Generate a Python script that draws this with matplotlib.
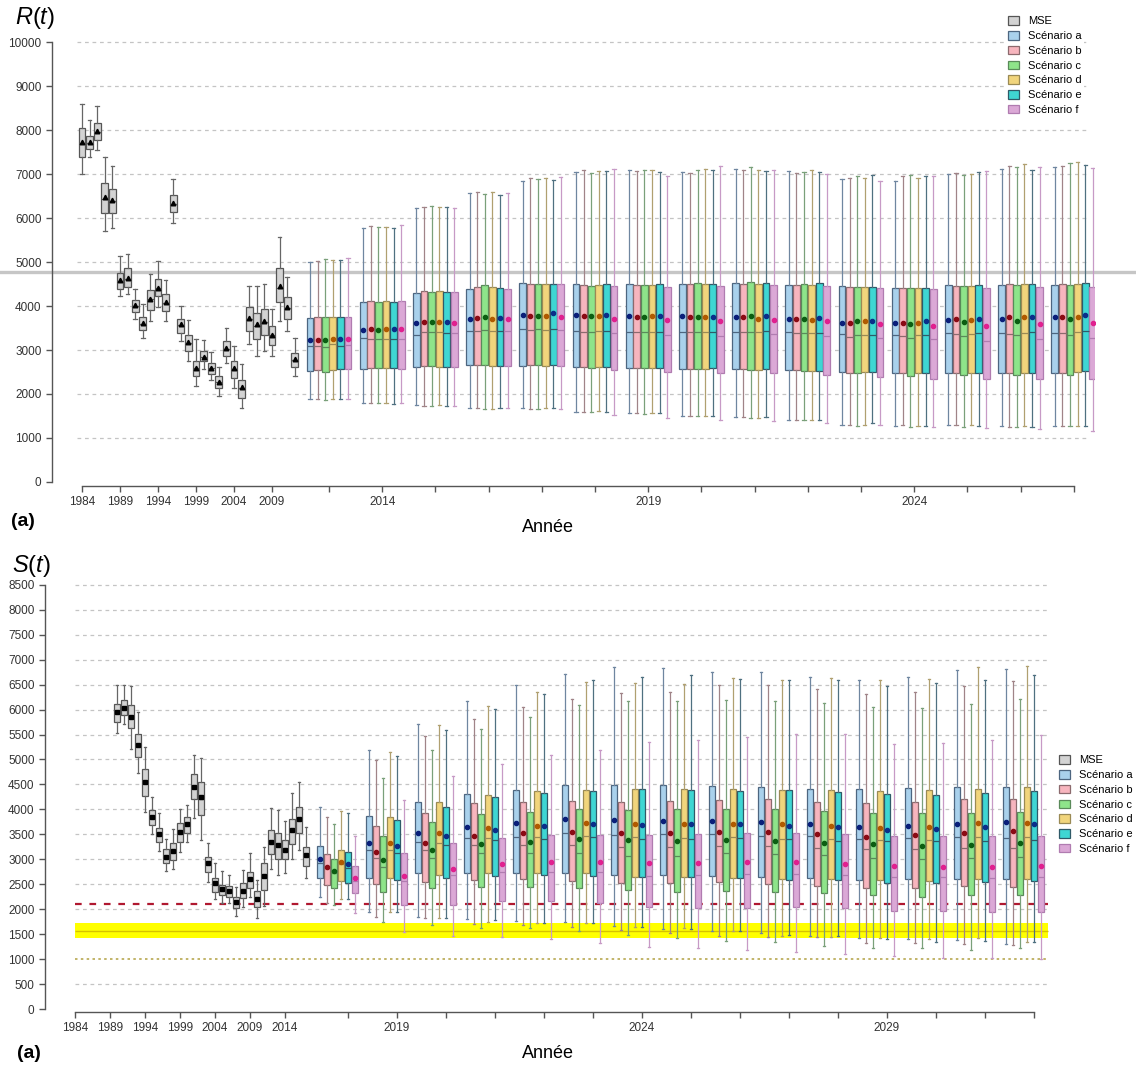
import matplotlib
matplotlib.use('Agg')
import matplotlib.pyplot as plt
from matplotlib.patches import Patch

plt.rcParams['font.family'] = ['Liberation Sans', 'DejaVu Sans']
plt.rcParams['mathtext.fontset'] = 'custom'
plt.rcParams['mathtext.rm'] = 'Liberation Sans'
plt.rcParams['mathtext.it'] = 'Liberation Sans:italic'

# ---------------- R(t) : historique MSE 1984-2012 ----------------
R_mse_years = list(range(1984, 2013))
R_mse_lo = [7010, 7390, 7540, 5700, 5780, 4230, 4270, 3710, 3270, 3660, 3980, 3660, 5890, 3200, 2740,
            2180, 2560, 2320, 1960, 2700, 2130, 1690, 3140, 2870, 2970, 2860, 3660, 3430, 2410]
R_mse_q1 = [7380, 7570, 7770, 6110, 6110, 4390, 4440, 3860, 3450, 3910, 4230, 3890, 6140, 3390, 2970,
            2410, 2740, 2450, 2130, 2870, 2360, 1920, 3430, 3240, 3330, 3120, 4090, 3710, 2610]
R_mse_med = [7700, 7710, 7960, 6440, 6380, 4570, 4620, 4000, 3600, 4150, 4400, 4070, 6320, 3560, 3160,
             2580, 2830, 2580, 2270, 3030, 2570, 2140, 3700, 3550, 3630, 3330, 4420, 3960, 2780]
R_mse_mean = [7720, 7730, 7980, 6470, 6410, 4590, 4640, 4020, 3620, 4170, 4420, 4090, 6350, 3580, 3180,
              2600, 2840, 2590, 2280, 3050, 2590, 2160, 3730, 3580, 3660, 3350, 4460, 3980, 2790]
R_mse_q3 = [8040, 7860, 8170, 6790, 6670, 4740, 4860, 4140, 3760, 4370, 4610, 4270, 6520, 3710, 3340,
            2760, 2970, 2700, 2400, 3200, 2740, 2310, 3980, 3850, 3940, 3540, 4860, 4200, 2930]
R_mse_hi = [8590, 8230, 8550, 7380, 7190, 5140, 5180, 4380, 4050, 4730, 5030, 4590, 6890, 4000, 3690,
            3250, 3220, 2950, 2610, 3500, 3080, 2690, 4460, 4460, 4500, 3940, 5560, 4670, 3280]

# ---------------- R(t) : projections 2013-2027, scénarios a..f ----------------
R_proj_years = list(range(2013, 2028))
R_hi = [[5000, 5030, 5060, 5050, 5040, 5100], [5780, 5820, 5790, 5800, 5770, 5830],
        [6220, 6250, 6270, 6260, 6240, 6230], [6560, 6600, 6540, 6580, 6520, 6560],
        [6850, 6900, 6880, 6920, 6870, 6930], [7050, 7080, 7030, 7060, 7070, 7120],
        [7100, 7060, 7090, 7080, 7050, 6950], [7050, 7020, 7100, 7120, 7080, 7180],
        [7120, 7080, 7150, 7100, 7060, 7100], [7060, 7020, 7050, 7080, 7050, 7000],
        [6880, 6900, 6950, 6920, 6980, 6830], [6850, 6950, 6980, 6900, 6960, 6950],
        [6990, 7020, 6980, 7010, 7050, 7070], [7120, 7180, 7150, 7220, 7100, 7170],
        [7150, 7180, 7250, 7280, 7200, 7130]]
R_q3 = [[3730, 3760, 3750, 3750, 3750, 3750], [4090, 4110, 4080, 4110, 4090, 4110],
        [4300, 4340, 4320, 4330, 4310, 4320], [4390, 4430, 4470, 4430, 4410, 4390],
        [4530, 4490, 4510, 4510, 4510, 4490], [4500, 4480, 4460, 4480, 4500, 4460],
        [4500, 4480, 4470, 4480, 4500, 4430], [4500, 4490, 4520, 4500, 4510, 4460],
        [4520, 4510, 4540, 4500, 4520, 4470], [4480, 4470, 4490, 4480, 4520, 4450],
        [4450, 4430, 4440, 4440, 4430, 4400], [4420, 4400, 4400, 4420, 4420, 4380],
        [4470, 4460, 4450, 4460, 4480, 4420], [4480, 4500, 4480, 4500, 4500, 4430],
        [4480, 4490, 4480, 4510, 4530, 4440]]
R_mean = [[3220, 3230, 3220, 3240, 3240, 3240], [3450, 3480, 3460, 3480, 3480, 3480],
          [3620, 3640, 3640, 3640, 3640, 3620], [3710, 3730, 3740, 3700, 3730, 3700],
          [3800, 3770, 3780, 3770, 3830, 3750], [3800, 3780, 3770, 3780, 3790, 3710],
          [3780, 3760, 3750, 3770, 3770, 3690], [3770, 3740, 3740, 3740, 3750, 3670],
          [3760, 3760, 3770, 3710, 3770, 3680], [3710, 3710, 3710, 3690, 3720, 3660],
          [3620, 3610, 3670, 3650, 3650, 3590], [3620, 3620, 3590, 3620, 3650, 3550],
          [3680, 3700, 3630, 3680, 3700, 3550], [3700, 3760, 3670, 3740, 3760, 3590],
          [3760, 3760, 3700, 3760, 3800, 3610]]
R_med = [[3080, 3100, 3070, 3130, 3100, 3110], [3270, 3260, 3260, 3260, 3260, 3260],
         [3350, 3410, 3400, 3400, 3380, 3380], [3430, 3440, 3460, 3430, 3440, 3430],
         [3480, 3460, 3480, 3460, 3480, 3460], [3440, 3420, 3420, 3430, 3440, 3380],
         [3420, 3410, 3400, 3410, 3420, 3350], [3410, 3410, 3410, 3410, 3410, 3320],
         [3420, 3410, 3410, 3410, 3440, 3360], [3410, 3380, 3380, 3380, 3390, 3320],
         [3360, 3290, 3330, 3340, 3340, 3270], [3350, 3320, 3270, 3340, 3350, 3250],
         [3380, 3360, 3310, 3360, 3380, 3210], [3380, 3370, 3330, 3380, 3400, 3250],
         [3380, 3380, 3330, 3400, 3440, 3270]]
R_q1 = [[2520, 2550, 2510, 2550, 2560, 2560], [2570, 2600, 2590, 2600, 2590, 2570],
        [2610, 2630, 2630, 2620, 2620, 2620], [2650, 2650, 2650, 2640, 2640, 2640],
        [2630, 2650, 2650, 2640, 2650, 2630], [2610, 2610, 2600, 2610, 2620, 2540],
        [2590, 2590, 2580, 2590, 2590, 2500], [2570, 2570, 2560, 2570, 2580, 2470],
        [2560, 2570, 2540, 2540, 2560, 2480], [2540, 2540, 2520, 2520, 2530, 2430],
        [2500, 2470, 2470, 2490, 2490, 2380], [2480, 2470, 2410, 2480, 2470, 2350],
        [2480, 2480, 2440, 2480, 2480, 2350], [2480, 2470, 2440, 2480, 2480, 2330],
        [2480, 2480, 2440, 2500, 2530, 2350]]
R_lo = [[1890, 1890, 1870, 1880, 1890, 1880], [1790, 1790, 1800, 1790, 1780, 1790],
        [1740, 1730, 1730, 1740, 1730, 1720], [1680, 1680, 1660, 1660, 1680, 1680],
        [1680, 1670, 1650, 1680, 1690, 1670], [1600, 1600, 1590, 1610, 1600, 1520],
        [1560, 1560, 1540, 1560, 1560, 1450], [1490, 1490, 1490, 1490, 1500, 1410],
        [1470, 1470, 1460, 1460, 1480, 1390], [1410, 1410, 1400, 1400, 1420, 1350],
        [1290, 1300, 1280, 1290, 1330, 1290], [1280, 1290, 1240, 1280, 1280, 1250],
        [1290, 1290, 1260, 1300, 1280, 1220], [1270, 1260, 1250, 1270, 1260, 1210],
        [1280, 1270, 1270, 1280, 1280, 1160]]
R_ref = 4780

# ---------------- S(t) : historique MSE 1990-2017 ----------------
S_mse_years = list(range(1990, 2018))
S_mse_lo = [5530, 5710, 5220, 4730, 3950, 3500, 3170, 2770, 2800, 3150, 3350, 3830, 3380, 2550,
            2200, 2120, 2120, 1860, 2040, 2250, 1820, 2060, 2800, 2690, 2730, 3000, 3190, 2620]
S_mse_q1 = [5750, 5890, 5630, 5040, 4270, 3690, 3350, 2920, 2980, 3350, 3530, 4200, 3890, 2750,
            2350, 2280, 2250, 2020, 2220, 2430, 2040, 2380, 3100, 3010, 3010, 3300, 3530, 2870]
S_mse_med = [5930, 6010, 5830, 5270, 4530, 3820, 3480, 3040, 3150, 3530, 3680, 4420, 4210, 2900,
             2500, 2390, 2360, 2130, 2360, 2580, 2190, 2640, 3330, 3260, 3160, 3570, 3780, 3080]
S_mse_mean = [5950, 6030, 5850, 5290, 4550, 3840, 3500, 3050, 3170, 3550, 3700, 4450, 4240, 2920,
              2520, 2400, 2370, 2140, 2370, 2600, 2200, 2660, 3350, 3290, 3190, 3590, 3800, 3090]
S_mse_q3 = [6120, 6190, 6100, 5520, 4800, 3990, 3630, 3200, 3320, 3730, 3850, 4700, 4550, 3050,
            2620, 2480, 2460, 2240, 2520, 2750, 2370, 2920, 3590, 3520, 3390, 3800, 4040, 3250]
S_mse_hi = [6490, 6490, 6470, 5950, 5250, 4250, 3920, 3400, 3600, 4000, 4080, 5100, 5030, 3320,
            2920, 2770, 2680, 2440, 2780, 3130, 2580, 3250, 4030, 3990, 3770, 4320, 4540, 3650]

# ---------------- S(t) : projections 2018-2032, scénarios a..f ----------------
S_proj_years = list(range(2018, 2033))
S_hi = [[4050, 3840, 3710, 3970, 3920, 3470], [5200, 4990, 4620, 5160, 5060, 4190],
        [5710, 5470, 5200, 5690, 5600, 4670], [6170, 5820, 5610, 6070, 6010, 4910],
        [6490, 6060, 5860, 6360, 6310, 5080], [6710, 6210, 6090, 6560, 6590, 5200],
        [6860, 6330, 6180, 6530, 6660, 5350], [6830, 6360, 6180, 6510, 6690, 5390],
        [6750, 6490, 6190, 6640, 6610, 5460], [6750, 6490, 6170, 6590, 6590, 5510],
        [6660, 6410, 6130, 6630, 6590, 5520], [6590, 6310, 6060, 6590, 6470, 5320],
        [6660, 6360, 6030, 6610, 6540, 5340], [6790, 6470, 6110, 6860, 6590, 5390],
        [6810, 6570, 6210, 6870, 6690, 5490]]
S_q3 = [[3270, 3100, 3010, 3190, 3150, 2870], [3870, 3670, 3470, 3850, 3790, 3120],
        [4150, 3920, 3740, 4140, 4050, 3320], [4300, 4120, 3900, 4290, 4240, 3420],
        [4380, 4150, 3950, 4360, 4320, 3490], [4490, 4170, 4010, 4390, 4370, 3490],
        [4490, 4150, 3990, 4400, 4400, 3490], [4490, 4170, 4000, 4400, 4390, 3510],
        [4470, 4190, 4010, 4400, 4370, 3530], [4440, 4200, 4010, 4390, 4390, 3530],
        [4410, 4150, 3970, 4390, 4340, 3510], [4400, 4120, 3930, 4370, 4300, 3460],
        [4420, 4140, 3920, 4390, 4290, 3460], [4440, 4200, 3920, 4410, 4320, 3470],
        [4440, 4200, 3950, 4440, 4370, 3470]]
S_mean = [[3000, 2850, 2770, 2940, 2910, 2620], [3330, 3150, 2990, 3320, 3270, 2670],
          [3520, 3330, 3190, 3520, 3470, 2810], [3650, 3470, 3310, 3620, 3590, 2910],
          [3720, 3520, 3350, 3670, 3670, 2950], [3800, 3540, 3400, 3730, 3700, 2950],
          [3790, 3530, 3390, 3710, 3690, 2920], [3770, 3520, 3370, 3700, 3700, 2930],
          [3770, 3550, 3390, 3700, 3700, 2950], [3740, 3540, 3370, 3700, 3670, 2950],
          [3700, 3500, 3330, 3670, 3640, 2910], [3650, 3440, 3300, 3630, 3590, 2870],
          [3670, 3480, 3270, 3650, 3600, 2840], [3710, 3530, 3290, 3730, 3640, 2850],
          [3740, 3560, 3330, 3720, 3700, 2870]]
S_med = [[2930, 2820, 2720, 2900, 2820, 2570], [3190, 3020, 2850, 3190, 3130, 2570],
         [3350, 3190, 3020, 3330, 3290, 2690], [3430, 3290, 3120, 3420, 3390, 2740],
         [3450, 3290, 3130, 3450, 3400, 2750], [3520, 3290, 3130, 3470, 3440, 2750],
         [3490, 3240, 3070, 3440, 3410, 2670], [3500, 3250, 3070, 3430, 3410, 2690],
         [3500, 3270, 3130, 3440, 3430, 2700], [3470, 3270, 3100, 3410, 3410, 2700],
         [3470, 3230, 3090, 3410, 3370, 2690], [3410, 3200, 3020, 3390, 3360, 2640],
         [3420, 3210, 3000, 3390, 3360, 2640], [3440, 3230, 3020, 3440, 3370, 2620],
         [3430, 3230, 3050, 3450, 3390, 2640]]
S_q1 = [[2620, 2480, 2430, 2570, 2530, 2330], [2620, 2500, 2350, 2620, 2590, 2080],
        [2720, 2550, 2420, 2690, 2630, 2080], [2730, 2590, 2450, 2720, 2670, 2170],
        [2720, 2600, 2450, 2720, 2690, 2170], [2720, 2570, 2430, 2720, 2670, 2120],
        [2690, 2520, 2380, 2650, 2640, 2050], [2690, 2520, 2350, 2640, 2640, 2020],
        [2670, 2540, 2360, 2630, 2620, 2020], [2640, 2510, 2340, 2600, 2590, 2040],
        [2620, 2470, 2320, 2600, 2590, 2020], [2590, 2420, 2280, 2590, 2520, 1970],
        [2600, 2430, 2250, 2570, 2530, 1970], [2600, 2470, 2280, 2600, 2550, 1940],
        [2600, 2450, 2280, 2600, 2570, 1940]]
S_lo = [[2240, 2120, 2080, 2200, 2200, 1930], [1940, 1840, 1740, 1940, 1940, 1550],
        [1840, 1820, 1680, 1820, 1820, 1460], [1800, 1700, 1620, 1750, 1780, 1440],
        [1760, 1680, 1620, 1730, 1730, 1400], [1740, 1650, 1570, 1720, 1720, 1330],
        [1670, 1590, 1490, 1650, 1650, 1250], [1600, 1530, 1430, 1620, 1600, 1220],
        [1570, 1470, 1360, 1570, 1570, 1180], [1520, 1440, 1340, 1460, 1480, 1150],
        [1460, 1450, 1270, 1440, 1460, 1100], [1420, 1330, 1220, 1430, 1400, 1060],
        [1400, 1320, 1220, 1400, 1350, 1030], [1380, 1300, 1190, 1420, 1360, 1030],
        [1310, 1280, 1220, 1350, 1350, 1000]]
S_lim = 2100
S_band = (1420, 1720)
S_band_mid = 1570
S_low_ref = 1000

labels = ['MSE', 'Scénario a', 'Scénario b', 'Scénario c', 'Scénario d', 'Scénario e', 'Scénario f']
faces = ['#d3d3d3', '#a9d1ec', '#f7b5be', '#8ee48a', '#f1d57c', '#3fd6d3', '#dba8d6']
edges = ['#555555', '#4d6680', '#8c6a6e', '#5a8a5a', '#9a8a55', '#2f5a68', '#b07cb0']
whisk = ['#666666', '#6f86a0', '#a08488', '#7aa07a', '#b0a070', '#4f7080', '#c79ac6']
meanc = ['black', '#0a1f7a', '#8b0a14', '#0b5e12', '#b05a00', '#0a2f8a', '#e0208f']

W, H = 1136, 1066
fig = plt.figure(figsize=(W / 100, H / 100), dpi=100)


def stats(lo, q1, med, q3, hi, mean):
    return [dict(whislo=a, q1=b, med=c, q3=d, whishi=e, mean=f, fliers=[])
            for a, b, c, d, e, f in zip(lo, q1, med, q3, hi, mean)]


def boxes(ax, pos, st, k, marker, ms, width):
    ax.bxp(st, positions=pos, widths=width, patch_artist=True, showmeans=True,
           showfliers=False, manage_ticks=False,
           boxprops=dict(facecolor=faces[k], edgecolor=edges[k], linewidth=0.9),
           whiskerprops=dict(color=whisk[k], linewidth=0.9, linestyle='-'),
           capprops=dict(color=whisk[k], linewidth=0.9),
           medianprops=dict(color=edges[k], linewidth=0.9),
           meanprops=dict(marker=marker, markerfacecolor=meanc[k], markeredgecolor=meanc[k],
                          markersize=ms), zorder=3)


def style_axes(ax):
    for s in ['top', 'right']:
        ax.spines[s].set_visible(False)
    for s in ['left', 'bottom']:
        ax.spines[s].set_color('#555555')
        ax.spines[s].set_linewidth(1.0)
    ax.tick_params(axis='both', colors='#555555', labelcolor='#333333', labelsize=8.5,
                   length=4, width=1.0)


def col(rows, k):
    return [r[k] for r in rows]


# ================= Panel R(t) =================
# slot = 7.6 px, 1984 at x=82
axR = fig.add_axes([52 / W, 1 - 486 / H, (1095 - 52) / W, (486 - 30) / H])
axR.set_xlim((52 - 82) / 7.6, (1095 - 82) / 7.6)
axR.set_ylim(-91, 10273)
style_axes(axR)
axR.spines['left'].set_bounds(0, 10000)
axR.hlines(range(1000, 10001, 1000), -0.7, 132.2, colors='#c4c4c4', linewidth=0.9,
           linestyles=(0, (3, 3)), zorder=1)
axR.axhline(R_ref, xmin=-0.06, xmax=1.05, color='#c6c6c6', linewidth=2.4, clip_on=False, zorder=2)

pos = [y - 1984 for y in R_mse_years]
boxes(axR, pos, stats(R_mse_lo, R_mse_q1, R_mse_med, R_mse_q3, R_mse_hi, R_mse_mean), 0, '^', 3.3, 0.9)
for k in range(6):
    pos = [30 + 7 * i + k for i in range(len(R_proj_years))]
    boxes(axR, pos, stats(col(R_lo, k), col(R_q1, k), col(R_med, k), col(R_q3, k),
                          col(R_hi, k), col(R_mean, k)), k + 1, 'o', 3.0, 0.88)

tick_years = [1984, 1989, 1994, 1999, 2004, 2009]
tpos = [y - 1984 for y in tick_years] + [32.5 + 7 * i for i in range(len(R_proj_years))]
tlab = [str(y) for y in tick_years] + [str(y) if y in (2014, 2019, 2024) else '' for y in R_proj_years]
axR.set_xticks(tpos)
axR.set_xticklabels(tlab)
axR.spines['bottom'].set_bounds(0, tpos[-1])
axR.set_yticks(range(0, 10001, 1000))

hR = [Patch(facecolor=faces[k], edgecolor=edges[k], linewidth=0.9, label=labels[k]) for k in range(7)]
fig.legend(handles=hR, loc='upper left', bbox_to_anchor=(1006 / W, 1 - 14 / H), fontsize=8,
           frameon=True, facecolor='white', edgecolor='none', framealpha=1, handlelength=1.0,
           handleheight=0.8, labelspacing=0.42, borderpad=0.2, handletextpad=0.8, borderaxespad=0)

fig.text(15 / W, 1 - 18 / H, r'$R(t)$', fontsize=17, va='center', ha='left')
fig.text(11 / W, 1 - 521 / H, '(a)', fontsize=14, fontweight='bold', va='center', ha='left')
fig.text(548 / W, 1 - 527 / H, 'Année', fontsize=13, va='center', ha='center')

# ================= Panel S(t) =================
# slot = 7.0 px, 1984 at x=75
axS = fig.add_axes([45 / W, 1 - 1012 / H, (1055 - 45) / W, (1012 - 575) / H])
axS.set_xlim((45 - 75) / 7.0, (1055 - 75) / 7.0)
axS.set_ylim(-60, 8697)
style_axes(axS)
axS.spines['left'].set_bounds(0, 8500)
grid_s = [v for v in range(500, 8501, 500) if v not in (S_low_ref, 1500)]
axS.hlines(grid_s, 0, 139, colors='#c4c4c4', linewidth=0.9, linestyles=(0, (3, 3)), zorder=1)
axS.fill_between([0, 139], S_band[0], S_band[1], color='#ffff00', linewidth=0, zorder=1.2)
axS.hlines(S_band_mid, 0, 139, colors='#d6c200', linewidth=1.0, zorder=1.3)
axS.hlines(S_low_ref, 0, 139, colors='#b8a850', linewidth=1.2, linestyles=(0, (1.5, 2)), zorder=1.3)
axS.hlines(S_lim, 0, 139, colors='#b01830', linewidth=1.6, linestyles=(0, (3, 3.5)), zorder=1.4)

pos = [y - 1984 for y in S_mse_years]
boxes(axS, pos, stats(S_mse_lo, S_mse_q1, S_mse_med, S_mse_q3, S_mse_hi, S_mse_mean), 0, 's', 2.6, 0.85)
for k in range(6):
    pos = [35 + 7 * i + k for i in range(len(S_proj_years))]
    boxes(axS, pos, stats(col(S_lo, k), col(S_q1, k), col(S_med, k), col(S_q3, k),
                          col(S_hi, k), col(S_mean, k)), k + 1, 'o', 3.0, 0.85)

tick_years = [1984, 1989, 1994, 1999, 2004, 2009, 2014]
tpos = [y - 1984 for y in tick_years] + [39 + 7 * i for i in range(len(S_proj_years))]
tlab = [str(y) for y in tick_years] + [str(y) if y in (2019, 2024, 2029) else '' for y in S_proj_years]
axS.set_xticks(tpos)
axS.set_xticklabels(tlab)
axS.spines['bottom'].set_bounds(0, tpos[-1])
axS.set_yticks(range(0, 8501, 500))

hS = [Patch(facecolor=faces[k], edgecolor=edges[k], linewidth=0.9, label=labels[k]) for k in range(7)]
fig.legend(handles=hS, loc='upper left', bbox_to_anchor=(1057 / W, 1 - 753 / H), fontsize=8,
           frameon=False, handlelength=1.0, handleheight=0.8, labelspacing=0.42, borderpad=0.2,
           handletextpad=0.8, borderaxespad=0)

fig.text(12 / W, 1 - 566 / H, r'$S(t)$', fontsize=17, va='center', ha='left')
fig.text(17 / W, 1 - 1053 / H, '(a)', fontsize=14, fontweight='bold', va='center', ha='left')
fig.text(548 / W, 1 - 1053 / H, 'Année', fontsize=13, va='center', ha='center')

fig.savefig('out.png', dpi=100)
